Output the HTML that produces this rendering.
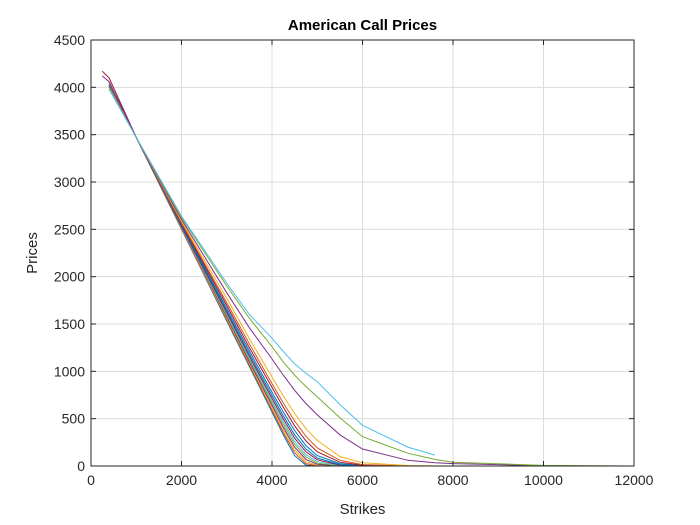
<!DOCTYPE html>
<html><head><meta charset="utf-8"><style>
html,body{margin:0;padding:0;background:#fff;}
svg{display:block;font-family:"Liberation Sans",Arial,sans-serif;}
</style></head><body>
<svg id="chart" width="700" height="525" viewBox="0 0 700 525"></svg>
<script>
const strikes = [250,400,1000,2000,3000,3500,4000,4250,4500,4750,5000,5500,6000,7000,7600,8000,10000,12000];
const xTicks = [0,2000,4000,6000,8000,10000,12000];
const yTicks = [0,500,1000,1500,2000,2500,3000,3500,4000,4500];
const s1 = [null,4050,3470,2500,1530,1050,570,330,110,10,0,0,null,null,null,null,null,null];
const s2 = [null,4045,3470,2505,1545,1065,590,355,140,25,2,0,0,null,null,null,null,null];
const s3 = [null,4040,3470,2510,1560,1085,615,385,170,45,8,0,0,null,null,null,null,null];
const s4 = [null,4035,3470,2515,1575,1100,640,410,200,70,18,1,0,null,null,null,null,null];
const s5 = [null,4030,3470,2520,1590,1120,665,440,230,95,30,3,0,null,null,null,null,null];
const s6 = [null,4025,3470,2525,1605,1140,690,470,260,120,45,6,0,0,null,null,null,null];
const s7 = [null,4020,3470,2530,1620,1160,715,500,295,150,65,10,1,0,null,null,null,null];
const s8 = [null,4015,3470,2540,1640,1185,745,530,330,180,85,15,2,0,null,null,null,null];
const s9 = [null,4010,3470,2550,1665,1215,780,570,375,215,110,25,4,0,null,null,null,null];
const s10 = [4170,4100,3470,2560,1695,1250,830,620,425,265,150,40,8,0,0,0,null,null];
const s11 = [null,4000,3470,2570,1725,1290,870,665,475,315,190,60,15,1,0,0,null,null];
const s12 = [null,3995,3470,2585,1770,1345,940,740,555,395,270,100,35,5,1,0,null,null];
const s13 = [4120,4060,3470,2605,1830,1460,1130,960,800,660,540,330,180,60,35,25,4,null];
const s14 = [null,3985,3470,2625,1900,1560,1260,1100,960,840,730,510,310,135,70,40,6,0];
const s15 = [null,3980,3470,2640,1930,1600,1350,1210,1080,980,890,650,430,200,115,null,null,null];
const seriesList = [s1,s2,s3,s4,s5,s6,s7,s8,s9,s10,s11,s12,s13,s14,s15];
const colors = ["#0072BD","#D95319","#EDB120","#7E2F8E","#77AC30","#4DBEEE","#A2142F","#0072BD","#0072BD","#A2142F","#D95319","#EDB120","#7E2F8E","#77AC30","#4DBEEE"];

const L=91,R=634,T=40,B=466;
const xs = v => L + v/12000*(R-L);
const ys = v => B - v/4500*(B-T);
const svg = document.getElementById('chart');
const NS='http://www.w3.org/2000/svg';
function mk(tag, attrs){const e=document.createElementNS(NS,tag);for(const k in attrs)e.setAttribute(k,attrs[k]);svg.appendChild(e);return e;}

const bg = mk('rect',{x:L,y:T,width:R-L,height:B-T,fill:'#fff'});



xTicks.forEach(t=>{
  const g = mk('line',{x1:xs(t),x2:xs(t),y1:T,y2:B,stroke:'#dcdcdc','stroke-width':1});
  
  
});
yTicks.forEach(t=>{
  const g = mk('line',{x1:L,x2:R,y1:ys(t),y2:ys(t),stroke:'#dcdcdc','stroke-width':1});
  
  
});

seriesList.forEach((s,i)=>{
  let pts=[];
  s.forEach((v,j)=>{ if(v!==null) pts.push(xs(strikes[j]).toFixed(1)+','+ys(v).toFixed(1)); });
  const p = mk('polyline',{points:pts.join(' '),fill:'none',stroke:colors[i],'stroke-width':1});
  
  
});

const box = mk('rect',{x:L,y:T,width:R-L,height:B-T,fill:'none',stroke:'#262626','stroke-width':1});



xTicks.forEach(t=>{
  const x=xs(t);
  const a=mk('line',{x1:x,x2:x,y1:B,y2:B-5,stroke:'#262626'});
  
  
  const b=mk('line',{x1:x,x2:x,y1:T,y2:T+5,stroke:'#262626'});
  
  
  const tx=mk('text',{x:x,y:B+19,'text-anchor':'middle','font-size':14,fill:'#262626'});
  tx.textContent=t;
  
  
});
yTicks.forEach(t=>{
  const y=ys(t);
  const a=mk('line',{x1:L,x2:L+5,y1:y,y2:y,stroke:'#262626'});
  
  
  const b=mk('line',{x1:R,x2:R-5,y1:y,y2:y,stroke:'#262626'});
  
  
  const tx=mk('text',{x:L-6,y:y+5,'text-anchor':'end','font-size':14,fill:'#262626'});
  tx.textContent=t;
  
  
});

const title=mk('text',{x:(L+R)/2,y:30,'text-anchor':'middle','font-size':15,'font-weight':'bold',fill:'#000'});
title.textContent='American Call Prices';


const xl=mk('text',{x:(L+R)/2,y:514,'text-anchor':'middle','font-size':15,fill:'#262626'});
xl.textContent='Strikes';


const yl=mk('text',{x:0,y:0,'text-anchor':'middle','font-size':15,fill:'#262626',transform:'translate(37,253) rotate(-90)'});
yl.textContent='Prices';


</script>
</body></html>
